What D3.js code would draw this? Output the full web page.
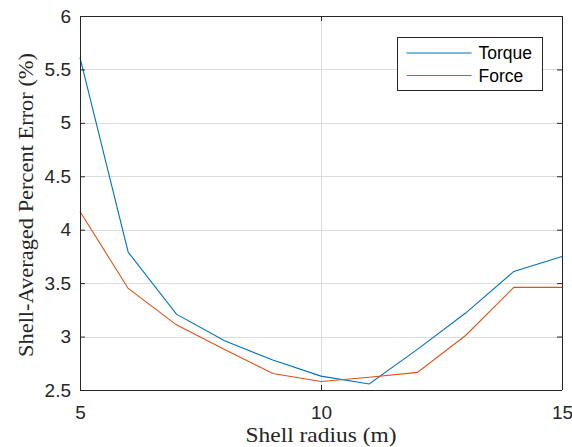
<!DOCTYPE html>
<html>
<head>
<meta charset="utf-8">
<script src="https://cdn.jsdelivr.net/npm/d3@7"></script>
<style>
  html, body { margin: 0; padding: 0; background: #fff; }
  svg { display: block; }
</style>
</head>
<body>
<svg id="chart" width="572" height="447"></svg>
<script>
// Shell radius (m)
const radius = [5, 6, 7, 8, 9, 10, 11, 12, 13, 14, 15];
// Shell-averaged percent error for each estimate
const torqueError = [5.61, 3.79, 3.21, 2.96, 2.78, 2.63, 2.556, 2.88, 3.22, 3.61, 3.75];
const forceError  = [4.17, 3.45, 3.11, 2.88, 2.655, 2.58, 2.62, 2.665, 3.01, 3.46, 3.46];
const seriesNames = ["Torque", "Force"];
const xTicks = [5, 10, 15];
const yTicks = [2.5, 3, 3.5, 4, 4.5, 5, 5.5, 6];

const colors = ["#0072BD", "#D95319"];
const axisColor = "#262626";

const svg = d3.select("#chart");
const m = { left: 80, right: 10, top: 16, bottom: 57 };
const W = 572, H = 447;

const x = d3.scaleLinear().domain([5, 15]).range([m.left, W - m.right]);
const y = d3.scaleLinear().domain([2.5, 6]).range([H - m.bottom, m.top]);

const x0 = x.range()[0], x1 = x.range()[1];
const y0 = y.range()[0], y1 = y.range()[1];

// grid
const grid = svg.append("g").attr("stroke", "#dcdcdc").attr("stroke-width", 1);
yTicks.forEach(t => {
  grid.append("line").attr("x1", x0).attr("x2", x1)
    .attr("y1", Math.round(y(t)) + 0.5).attr("y2", Math.round(y(t)) + 0.5);
});
xTicks.forEach(t => {
  grid.append("line").attr("y1", y0).attr("y2", y1)
    .attr("x1", Math.round(x(t)) + 0.5).attr("x2", Math.round(x(t)) + 0.5);
});

// data lines
const line = d3.line().x((d, i) => x(radius[i])).y(d => y(d));
[torqueError, forceError].forEach((s, k) => {
  svg.append("path").datum(s)
    .attr("fill", "none")
    .attr("stroke", colors[k])
    .attr("stroke-width", 1.1)
    .attr("d", line);
});

// axes (box with inward ticks on all sides)
const sansFamily = "'Liberation Sans', Arial, Helvetica, sans-serif";
const axB = d3.axisBottom(x).tickValues(xTicks).tickSize(-5).tickPadding(16).tickFormat(d3.format("d"));
const axT = d3.axisTop(x).tickValues(xTicks).tickSize(-5).tickFormat("");
const axL = d3.axisLeft(y).tickValues(yTicks).tickSize(-5).tickPadding(9).tickFormat(d => d3.format("")(d));
const axR = d3.axisRight(y).tickValues(yTicks).tickSize(-5).tickFormat("");

function styleAxis(g) {
  g.selectAll("path.domain").attr("stroke", axisColor).attr("stroke-width", 1);
  g.selectAll(".tick line").attr("stroke", axisColor);
  g.selectAll(".tick text").attr("fill", axisColor)
    .style("font-family", sansFamily).style("font-size", "19px");
}
svg.append("g").attr("transform", `translate(0,${y0})`).call(axB).call(styleAxis)
  .call(g => g.select("path.domain").attr("d", `M${x0},0.5H${x1}`));
svg.append("g").attr("transform", `translate(0,${y1})`).call(axT).call(styleAxis)
  .call(g => g.select("path.domain").attr("d", `M${x0},0.5H${x1}`));
svg.append("g").attr("transform", `translate(${x0},0)`).call(axL).call(styleAxis)
  .call(g => g.select("path.domain").attr("d", `M0.5,${y0}V${y1}`));
svg.append("g").attr("transform", `translate(${x1},0)`).call(axR).call(styleAxis)
  .call(g => g.select("path.domain").attr("d", `M0.5,${y0}V${y1}`));

// axis labels
const labelFont = "'Liberation Serif', 'Times New Roman', serif";
svg.append("text")
  .attr("x", 321).attr("y", 442)
  .attr("text-anchor", "middle")
  .attr("fill", axisColor)
  .attr("textLength", 151).attr("lengthAdjust", "spacingAndGlyphs")
  .style("font-family", labelFont).style("font-size", "21px")
  .text("Shell radius (m)");
svg.append("text")
  .attr("transform", `translate(33,205) rotate(-90)`)
  .attr("text-anchor", "middle")
  .attr("fill", axisColor)
  .attr("textLength", 304).attr("lengthAdjust", "spacingAndGlyphs")
  .style("font-family", labelFont).style("font-size", "21px")
  .text("Shell-Averaged Percent Error (%)");

// legend
const lg = svg.append("g").attr("transform", "translate(397.5,37.5)");
lg.append("rect").attr("width", 145).attr("height", 53)
  .attr("fill", "#fff").attr("stroke", axisColor).attr("stroke-width", 1);
seriesNames.forEach((n, k) => {
  const yy = 15.5 + k * 22.5;
  lg.append("line").attr("x1", 9).attr("x2", 74).attr("y1", yy).attr("y2", yy)
    .attr("stroke", colors[k]).attr("stroke-width", 1.1);
  lg.append("text").attr("x", 81).attr("y", yy).attr("dy", "0.36em")
    .attr("fill", "#000")
    .style("font-family", sansFamily).style("font-size", "17.5px")
    .text(n);
});
</script>
</body>
</html>
